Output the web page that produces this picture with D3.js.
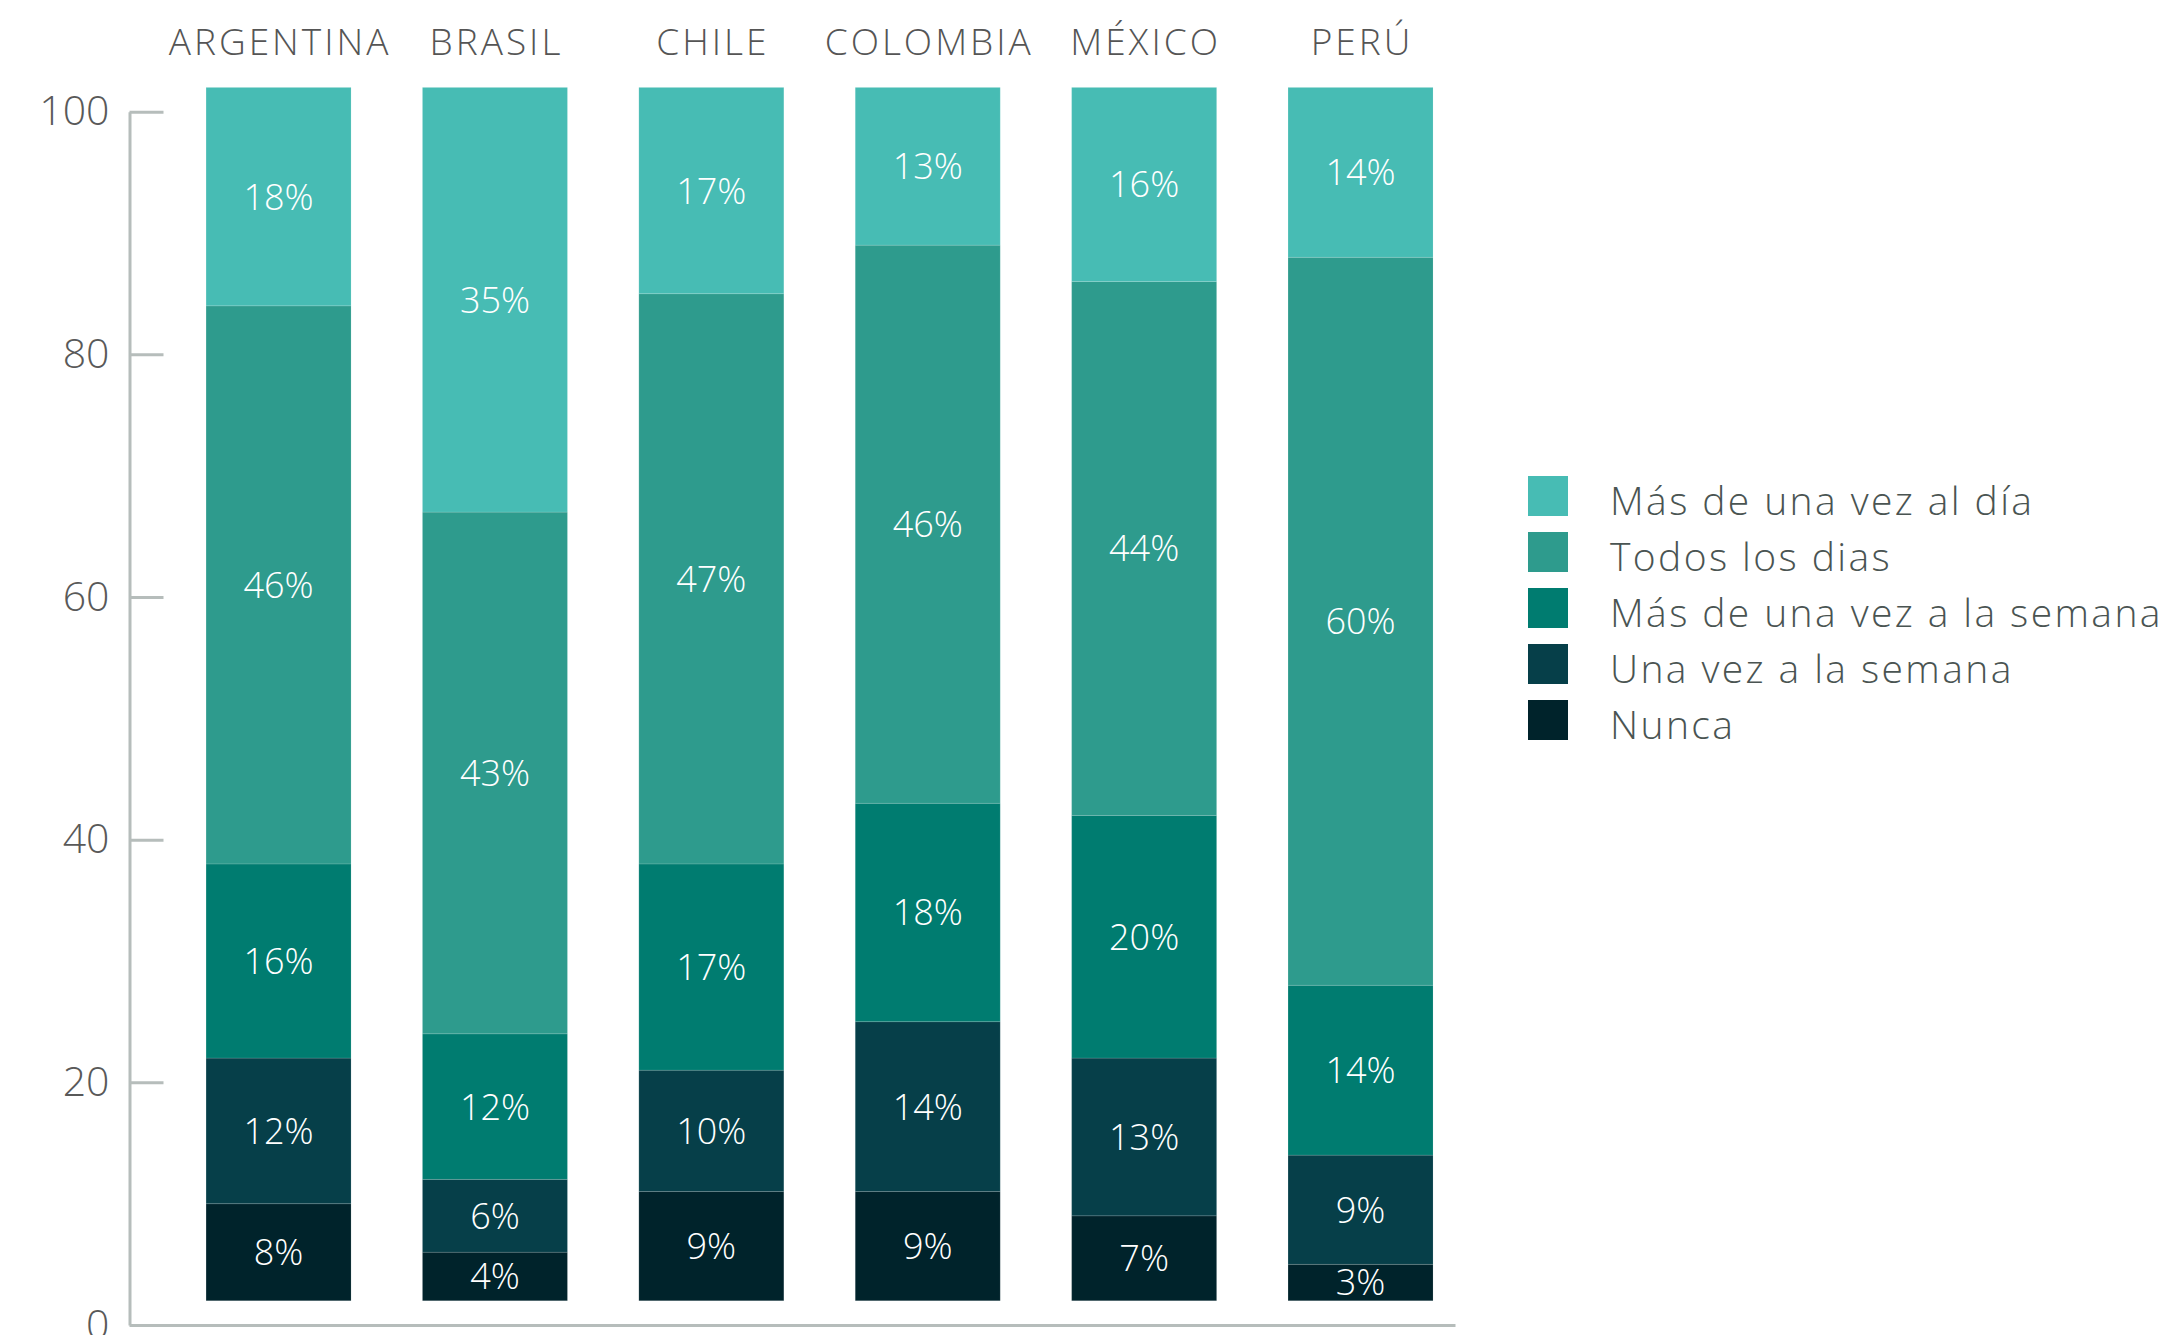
<!DOCTYPE html>
<html>
<head>
<meta charset="utf-8">
<script src="https://cdn.jsdelivr.net/npm/d3@7"></script>
<style>
  html, body { margin: 0; padding: 0; background: #ffffff; }
  svg { display: block; }
  text { font-family: "Open Sans", "Lato", sans-serif; font-weight: 300; }
</style>
</head>
<body>
<svg id="chart" width="2173" height="1335"></svg>
<script>
// Countries along the x axis
const countries = ["ARGENTINA", "BRASIL", "CHILE", "COLOMBIA", "MÉXICO", "PERÚ"];

// Share of respondents (%) per frequency, one value per country
const nunca          = [8, 4, 9, 9, 7, 3];
const unaVezSemana   = [12, 6, 10, 14, 13, 9];
const masDeUnaSemana = [16, 12, 17, 18, 20, 14];
const todosLosDias   = [46, 43, 47, 46, 44, 60];
const masDeUnaDia    = [18, 35, 17, 13, 16, 14];

// Series names, stacked bottom to top
const seriesNames = ["Nunca", "Una vez a la semana", "Más de una vez a la semana", "Todos los dias", "Más de una vez al día"];
const seriesValues = [nunca, unaVezSemana, masDeUnaSemana, todosLosDias, masDeUnaDia];

// Y axis tick values
const yTicks = [0, 20, 40, 60, 80, 100];

const colors = {
  "Más de una vez al día": "#47bcb4",
  "Todos los dias": "#2e9b8d",
  "Más de una vez a la semana": "#007c70",
  "Una vez a la semana": "#063f49",
  "Nunca": "#00232b"
};

// Rows for d3.stack
const rows = countries.map((c, i) => {
  const r = { country: c };
  seriesNames.forEach((s, k) => { r[s] = seriesValues[k][i]; });
  return r;
});

const svg = d3.select("#chart");

const axisX0 = 129.5, axisX1 = 1455;
const axisYBottom = 1325, axisYTop = 111.7;
// bars rest slightly above the baseline
const barLift = 2;

const y = d3.scaleLinear().domain([0, 100]).range([axisYBottom, axisYTop]);

const x = d3.scaleBand()
  .domain(countries)
  .range([axisX0, axisX1])
  .paddingInner(0.33)
  .paddingOuter(0.2277)
  .align(0.777);

const stacked = d3.stack().keys(seriesNames)(rows);

// Stacked bars
const layers = svg.append("g").attr("class", "bars")
  .selectAll("g")
  .data(stacked)
  .join("g")
  .attr("fill", d => colors[d.key]);

layers.selectAll("rect")
  .data(d => d)
  .join("rect")
  .attr("x", d => x(d.data.country))
  .attr("width", x.bandwidth())
  .attr("y", d => y(d[1] + barLift))
  .attr("height", d => y(d[0] + barLift) - y(d[1] + barLift))
  .attr("stroke", "rgba(255,255,255,0.12)")
  .attr("stroke-width", 1);

// Value labels inside each segment
layers.selectAll("text")
  .data(d => d.map(p => ({ p, key: d.key })))
  .join("text")
  .attr("x", d => x(d.p.data.country) + x.bandwidth() / 2)
  .attr("y", d => (y(d.p[0] + barLift) + y(d.p[1] + barLift)) / 2)
  .attr("dy", "0.36em")
  .attr("text-anchor", "middle")
  .attr("fill", "#ffffff")
  .attr("font-size", 36)
  .text(d => (d.p[1] - d.p[0]) + "%");

// Y axis, ticks pointing into the plot
const yAxis = svg.append("g")
  .attr("transform", `translate(${axisX0},0)`)
  .call(d3.axisLeft(y).tickValues(yTicks).tickSizeInner(-34).tickSizeOuter(0).tickPadding(20));

yAxis.select(".domain").attr("stroke", "#b6bdbb").attr("stroke-width", 3);
yAxis.selectAll(".tick line").attr("stroke", "#b6bdbb").attr("stroke-width", 3);
yAxis.selectAll(".tick text")
  .attr("fill", "#595959")
  .attr("font-size", 41)
  .style("font-family", "'Open Sans', sans-serif")
  .style("font-weight", 300);

// X axis baseline
const xAxis = svg.append("g")
  .attr("transform", `translate(0,${axisYBottom})`)
  .call(d3.axisBottom(x).tickSize(0).tickFormat(""));
xAxis.select(".domain").attr("stroke", "#b6bdbb").attr("stroke-width", 3);

// Country names above the bars
const topAxis = svg.append("g")
  .attr("transform", "translate(1.5,55)")
  .call(d3.axisTop(x).tickSize(0).tickPadding(0));
topAxis.select(".domain").remove();
topAxis.selectAll(".tick text")
  .attr("fill", "#555555")
  .attr("font-size", 37)
  .attr("dy", 0)
  .attr("y", 0)
  .style("letter-spacing", "3px")
  .style("font-family", "'Open Sans', sans-serif")
  .style("font-weight", 300);

// Legend, top entry is the top of the stack
const legendItems = seriesNames.slice().reverse();
const legend = svg.append("g").attr("transform", "translate(1528,476)");
const li = legend.selectAll("g")
  .data(legendItems)
  .join("g")
  .attr("transform", (d, i) => `translate(0,${i * 56})`);
li.append("rect")
  .attr("width", 40)
  .attr("height", 40)
  .attr("fill", d => colors[d]);
li.append("text")
  .attr("x", 82)
  .attr("y", 39)
  .attr("fill", "#4a5452")
  .attr("font-size", 39)
  .style("letter-spacing", "2.4px")
  .text(d => d);
</script>
</body>
</html>
